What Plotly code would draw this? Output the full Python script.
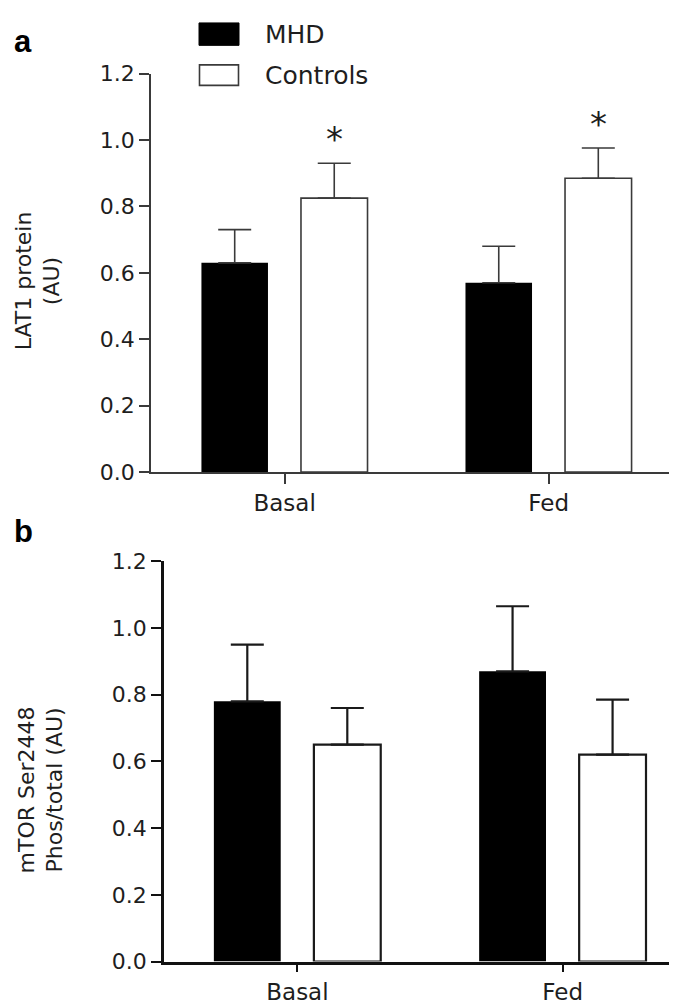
import plotly.graph_objects as go

categories = ["Basal", "Fed"]
groups = ["MHD", "Controls"]

lat1_mhd = [0.63, 0.57]
lat1_mhd_err = [0.10, 0.11]
lat1_ctrl = [0.825, 0.885]
lat1_ctrl_err = [0.105, 0.091]
lat1_sig = ["*", "*"]

mtor_mhd = [0.78, 0.87]
mtor_mhd_err = [0.17, 0.195]
mtor_ctrl = [0.65, 0.62]
mtor_ctrl_err = [0.11, 0.165]

y_ticks = [0.0, 0.2, 0.4, 0.6, 0.8, 1.0, 1.2]
y_ticklabels = ["0.0", "0.2", "0.4", "0.6", "0.8", "1.0", "1.2"]

W, H = 677, 1007
FONT = "DejaVu Sans"
BW = 0.252
OFF_M = -0.315
OFF_C = 0.062


def px_x(x):
    return x / W


def px_y(y):
    return 1 - y / H


fig = go.Figure()


def add_panel(xa, ya, mhd, mhd_err, ctrl, ctrl_err, lw, lc):
    fig.add_trace(go.Bar(
        x=categories, y=mhd, name=groups[0], width=BW, offset=OFF_M,
        marker=dict(color="black", line=dict(color="black", width=0)),
        error_y=dict(type="data", symmetric=False, array=mhd_err,
                     arrayminus=[0] * len(mhd), width=16.5, thickness=lw, color=lc),
        xaxis=xa, yaxis=ya, showlegend=False))
    fig.add_trace(go.Bar(
        x=categories, y=ctrl, name=groups[1], width=BW, offset=OFF_C,
        marker=dict(color="white", line=dict(color=lc, width=lw)),
        error_y=dict(type="data", symmetric=False, array=ctrl_err,
                     arrayminus=[0] * len(ctrl), width=16.5, thickness=lw, color=lc),
        xaxis=xa, yaxis=ya, showlegend=False))


add_panel("x", "y", lat1_mhd, lat1_mhd_err, lat1_ctrl, lat1_ctrl_err, 1.6, "#3a3a3a")
add_panel("x2", "y2", mtor_mhd, mtor_mhd_err, mtor_ctrl, mtor_ctrl_err, 2.2, "#1a1a1a")

tickfont = dict(family=FONT, size=22, color="#1e1e1e")
catfont = dict(family=FONT, size=23, color="#1e1e1e")

common_y = dict(range=[0, 1.2], tickvals=y_ticks, ticktext=y_ticklabels,
                ticks="outside", ticklen=10, showgrid=False, zeroline=False,
                showline=True, tickfont=tickfont, fixedrange=True)
common_x = dict(type="category", categoryorder="array", categoryarray=categories,
                ticks="outside", showgrid=False, zeroline=False,
                showline=True, tickfont=catfont)

fig.update_layout(
    width=W, height=H,
    margin=dict(l=0, r=0, t=0, b=0),
    paper_bgcolor="white", plot_bgcolor="white",
    barmode="overlay",
    xaxis=dict(common_x, domain=[px_x(143), px_x(674)], range=[-0.506, 1.505],
               anchor="y", linecolor="#3a3a3a", linewidth=1.8, ticklen=10,
               tickcolor="#3a3a3a", tickwidth=1.8),
    yaxis=dict(common_y, domain=[px_y(463.5), px_y(55)], anchor="x",
               linecolor="#3a3a3a", linewidth=1.8, tickcolor="#3a3a3a", tickwidth=1.8),
    xaxis2=dict(common_x, domain=[px_x(156), 1.0], range=[-0.503, 1.461],
                anchor="y2", linecolor="#111111", linewidth=2.6, ticklen=8,
                tickcolor="#111111", tickwidth=2.4),
    yaxis2=dict(common_y, domain=[px_y(965.5), px_y(555)], anchor="x2",
                linecolor="#111111", linewidth=2.6, tickcolor="#111111", tickwidth=2.4),
)

annotations = []
# significance asterisks above the control bars in panel a
for i, s in enumerate(lat1_sig):
    annotations.append(dict(
        x=i + OFF_C + BW / 2, y=lat1_ctrl[i] + lat1_ctrl_err[i], xref="x", yref="y",
        text=s, showarrow=False, yanchor="middle", yshift=24,
        font=dict(family=FONT, size=34, color="#1e1e1e")))

# panel letters
annotations.append(dict(x=px_x(4), y=px_y(22), xref="paper", yref="paper", text="<b>a</b>",
                        showarrow=False, xanchor="left", yanchor="middle",
                        font=dict(family="Liberation Sans", size=31, color="black")))
annotations.append(dict(x=px_x(4), y=px_y(525), xref="paper", yref="paper", text="<b>b</b>",
                        showarrow=False, xanchor="left", yanchor="middle",
                        font=dict(family="Liberation Sans", size=31, color="black")))

# y-axis titles
titlefont = dict(family=FONT, size=22, color="#1e1e1e")
annotations.append(dict(x=px_x(30), y=px_y(268), xref="paper", yref="paper",
                        text="LAT1 protein<br>(AU)", textangle=-90, showarrow=False,
                        xanchor="center", yanchor="middle", font=titlefont))
annotations.append(dict(x=px_x(33), y=px_y(790), xref="paper", yref="paper",
                        text="mTOR Ser2448<br>Phos/total (AU)", textangle=-90, showarrow=False,
                        xanchor="center", yanchor="middle", font=titlefont))

# legend
legfont = dict(family=FONT, size=25, color="#1e1e1e")
annotations.append(dict(x=px_x(255), y=px_y(15), xref="paper", yref="paper", text=groups[0],
                        showarrow=False, xanchor="left", yanchor="middle", font=legfont))
annotations.append(dict(x=px_x(255), y=px_y(57), xref="paper", yref="paper", text=groups[1],
                        showarrow=False, xanchor="left", yanchor="middle", font=legfont))
fig.update_layout(annotations=annotations)

fig.add_shape(type="rect", xref="paper", yref="paper",
              x0=px_x(191), x1=px_x(231), y0=px_y(26), y1=px_y(3),
              fillcolor="black", line=dict(color="black", width=1))
fig.add_shape(type="rect", xref="paper", yref="paper",
              x0=px_x(191.5), x1=px_x(230.5), y0=px_y(67), y1=px_y(46),
              fillcolor="white", line=dict(color="#3a3a3a", width=1.6))

fig.write_html("out.html")
